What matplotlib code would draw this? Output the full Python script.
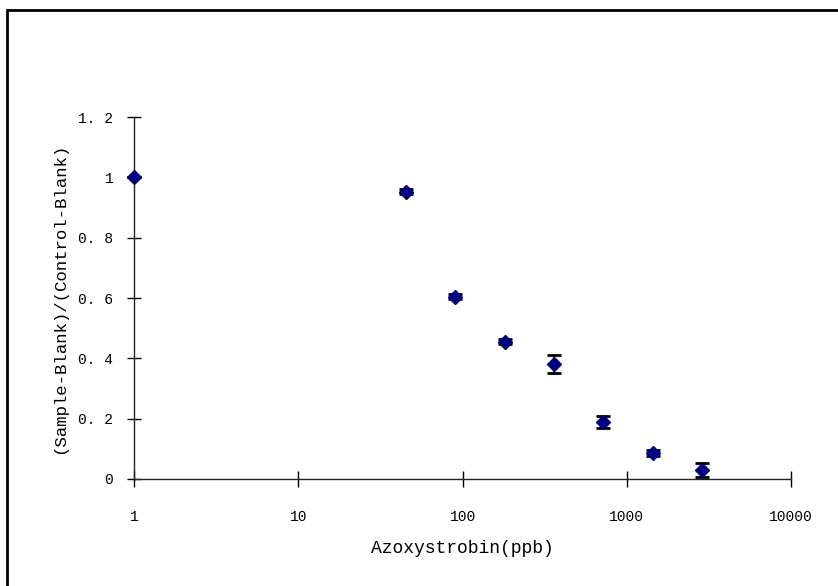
import numpy as np
import matplotlib
matplotlib.use("Agg")
from matplotlib import pyplot as plt
from matplotlib.patches import Rectangle

conc = [1, 45, 90, 180, 360, 720, 1440, 2880]
ratio = [1.0, 0.953, 0.605, 0.455, 0.382, 0.188, 0.086, 0.030]
err = [0.0, 0.008, 0.007, 0.009, 0.030, 0.020, 0.010, 0.023]
yticks = [0, 0.2, 0.4, 0.6, 0.8, 1.0, 1.2]
ylabels = ["0", "0. 2", "0. 4", "0. 6", "0. 8", "1", "1. 2"]
xticks = [1, 10, 100, 1000, 10000]
xlabels = ["1", "10", "100", "1000", "10000"]

plt.rcParams['font.family'] = ['Liberation Mono', 'DejaVu Sans']

fig = plt.figure(figsize=(8.38, 5.86), dpi=100)
ax = fig.add_axes([0.160, 0.1826, 0.784, 0.6177])

ax.errorbar(conc, ratio, yerr=err, fmt='D', color='#000080', markersize=7,
            ecolor='black', elinewidth=1.5, capsize=5, capthick=2, zorder=3,
            clip_on=False)

ax.set_xscale('log')
ax.set_xlim(1, 10000)
ax.set_ylim(0, 1.2)
ax.set_xticks(xticks)
ax.set_xticklabels(xlabels)
ax.minorticks_off()
ax.set_yticks(yticks)
ax.set_yticklabels(ylabels)

for s in ['top', 'right']:
    ax.spines[s].set_visible(False)
for s in ['left', 'bottom']:
    ax.spines[s].set_color('#222222')
    ax.spines[s].set_linewidth(1.0)

ax.tick_params(axis='x', direction='inout', length=12, width=1, pad=16, labelsize=10.5)
ax.tick_params(axis='y', direction='inout', length=10, width=1, pad=10, labelsize=10.5)

ax.set_xlabel('Azoxystrobin(ppb)', fontsize=13, labelpad=12)
ax.set_ylabel('(Sample-Blank)/(Control-Blank)', fontsize=12.5, labelpad=8)

fig.patches.append(Rectangle((7 / 838, -0.2), 1.2, 1.2 - 10 / 586,
                             transform=fig.transFigure, fill=False,
                             edgecolor='black', linewidth=2))

fig.savefig('out.png', dpi=100)
